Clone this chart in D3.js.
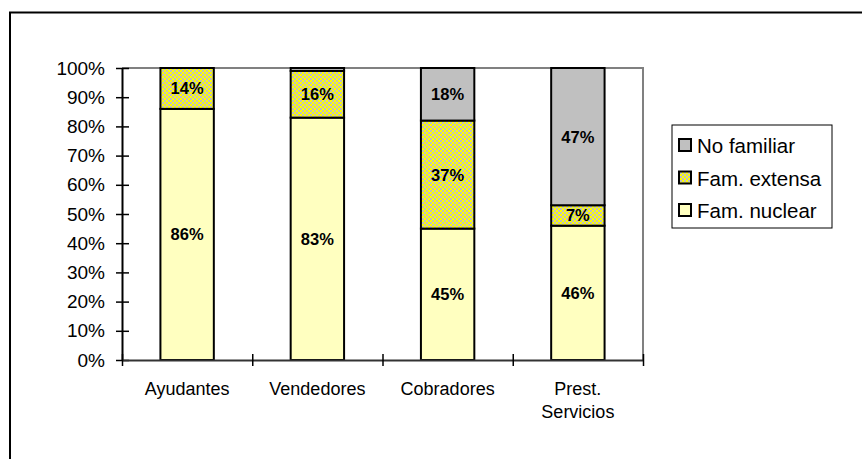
<!DOCTYPE html>
<html><head><meta charset="utf-8">
<script src="https://cdn.jsdelivr.net/npm/d3@7"></script>
<style>body{margin:0;background:#fff}svg{display:block}text{font-family:Arial,"Liberation Sans",sans-serif}</style>
</head><body>
<svg id="c" width="862" height="459"></svg>
<script>
const categories = [["Ayudantes"], ["Vendedores"], ["Cobradores"], ["Prest.", "Servicios"]];
const seriesNames = ["Fam. nuclear", "Fam. extensa", "No familiar"];
const nuclear = [86, 83, 45, 46];
const extensa = [14, 16, 37, 7];
const noFamiliar = [0, 1, 18, 47];
const yTicks = [0, 10, 20, 30, 40, 50, 60, 70, 80, 90, 100];

const svg = d3.select("#c");
const defs = svg.append("defs");
const pat = defs.append("pattern").attr("id", "chk").attr("patternUnits", "userSpaceOnUse")
  .attr("width", 4).attr("height", 4);
pat.append("rect").attr("width", 4).attr("height", 4).attr("fill", "#ffff00");
pat.append("rect").attr("width", 2).attr("height", 2).attr("fill", "#c0c0c0");
pat.append("rect").attr("x", 2).attr("y", 2).attr("width", 2).attr("height", 2).attr("fill", "#c0c0c0");

const fills = ["#ffffc0", "url(#chk)", "#c0c0c0"];

// outer border (top & left visible)
svg.append("path").attr("d", "M10,459 V12.5 H862").attr("fill", "none").attr("stroke", "#000").attr("stroke-width", 2);

const L = 122, R = 643, T = 68, B = 360;
const x = d3.scaleBand().domain(d3.range(categories.length)).range([L, R]).paddingInner(0.59).paddingOuter(0.295);
const y = d3.scaleLinear().domain([0, 100]).range([B, T]);

// plot border gray
svg.append("path").attr("d", `M${L},${T} H${R} V${B}`).attr("fill", "none").attr("stroke", "#808080").attr("stroke-width", 2);

const stackData = categories.map((c, i) => ({i, v: [nuclear[i], extensa[i], noFamiliar[i]]}));
stackData.forEach(d => {
  let acc = 0;
  d.v.forEach((v, s) => {
    if (v > 0) {
      svg.append("rect").attr("x", x(d.i)).attr("width", x.bandwidth())
        .attr("y", y(acc + v)).attr("height", y(acc) - y(acc + v))
        .attr("fill", fills[s]).attr("stroke", "#000").attr("stroke-width", 2);
      if (v >= 5) {
        svg.append("text").attr("x", x(d.i) + x.bandwidth() / 2).attr("y", y(acc + v / 2))
          .attr("text-anchor", "middle").attr("dy", "0.36em")
          .attr("font-size", 16.5).attr("font-weight", "bold").text(v + "%");
      }
    }
    acc += v;
  });
});

// y axis
const yAxis = d3.axisLeft(y).tickValues(yTicks).tickFormat(d => d + "%").tickSizeInner(6).tickSizeOuter(0);
const yg = svg.append("g").attr("transform", `translate(${L},0)`).call(yAxis);
yg.select(".domain").attr("stroke", "#000").attr("stroke-width", 2);
yg.selectAll(".tick line").attr("x1", -6).attr("x2", 7).attr("stroke", "#000").attr("stroke-width", 1.5);
yg.selectAll(".tick text").attr("x", -17).attr("font-size", 19).attr("fill", "#000").attr("font-family", "Arial, 'Liberation Sans', sans-serif");

// x axis
const xLin = d3.scaleLinear().domain([0, categories.length]).range([L, R]);
const xAxis = d3.axisBottom(xLin).tickValues(d3.range(categories.length + 1)).tickFormat("").tickSizeInner(6).tickSizeOuter(0);
const xg = svg.append("g").attr("transform", `translate(0,${B})`).call(xAxis);
xg.select(".domain").attr("stroke", "#333").attr("stroke-width", 2);
xg.selectAll(".tick line").attr("y1", -6).attr("y2", 6).attr("stroke", "#000").attr("stroke-width", 1.5);

categories.forEach((lines, i) => {
  lines.forEach((t, k) => {
    svg.append("text").attr("x", x(i) + x.bandwidth() / 2).attr("y", 395 + k * 23)
      .attr("text-anchor", "middle").attr("font-size", 18).text(t);
  });
});

// legend
const lg = svg.append("g");
lg.append("rect").attr("x", 672).attr("y", 125).attr("width", 160).attr("height", 103)
  .attr("fill", "#fff").attr("stroke", "#000").attr("stroke-width", 1);
const legendOrder = [2, 1, 0];
legendOrder.forEach((s, k) => {
  const cy = 145 + k * 32.5;
  lg.append("rect").attr("x", 679).attr("y", cy - 6).attr("width", 12).attr("height", 12)
    .attr("fill", fills[s]).attr("stroke", "#000").attr("stroke-width", 2);
  lg.append("text").attr("x", 697).attr("y", cy + 1).attr("dy", "0.36em").attr("font-size", 20.5).text(seriesNames[s]);
});
</script>
</body></html>
